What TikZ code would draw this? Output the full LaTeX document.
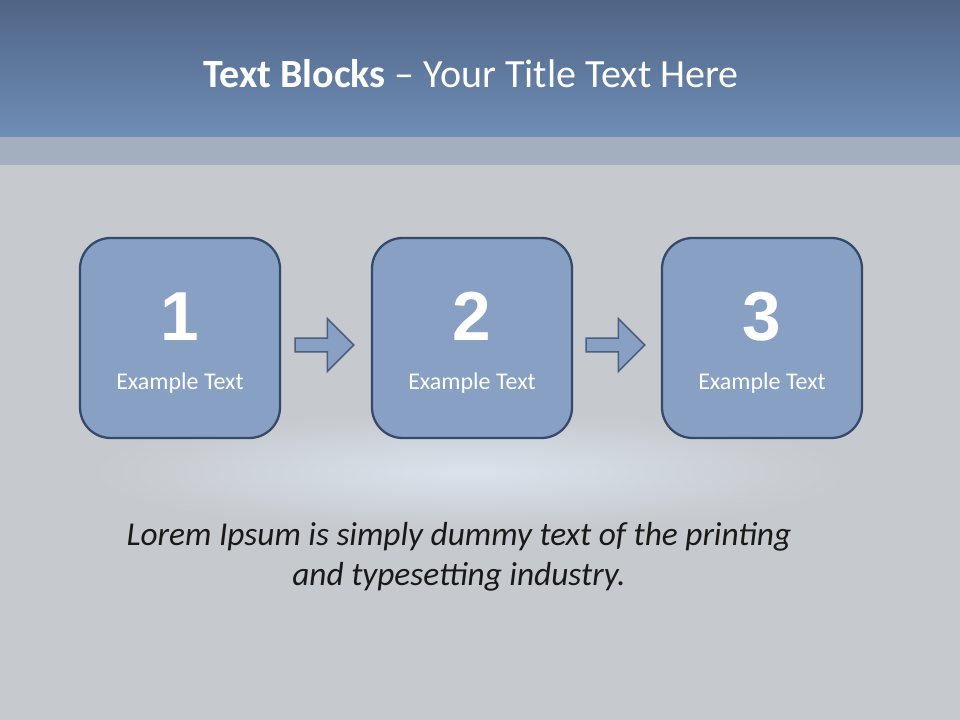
\documentclass[tikz,border=0pt]{standalone}
\usepackage{fontspec}
\setmainfont{Carlito}
\newfontfamily\numfont{Liberation Sans}
\usetikzlibrary{positioning,calc,shapes.arrows}
\definecolor{BarTop}{HTML}{4F6586}
\definecolor{BarBottom}{HTML}{6F8DB6}
\definecolor{BandGrey}{HTML}{A3AFBF}
\definecolor{SlideGrey}{HTML}{C6C9CD}
\definecolor{BlockBlue}{HTML}{87A0C4}
\definecolor{BlockEdge}{HTML}{34496B}
\definecolor{ArrowEdge}{HTML}{4B5F80}
\definecolor{GlowBlue}{HTML}{D9E2EC}

\tikzset{
  block/.style={draw=BlockEdge,line width=1.7pt,fill=BlockBlue,rounded corners=23pt,
    minimum width=150pt,minimum height=150pt,inner sep=0pt},
  numlabel/.style={text=white,font=\numfont\bfseries\fontsize{52}{60}\selectfont,anchor=base,inner sep=0pt},
  boxlabel/.style={text=white,font=\fontsize{18}{21}\selectfont,anchor=base,inner sep=0pt},
  steparrow/.style={single arrow,draw=ArrowEdge,line width=1.2pt,fill=BlockBlue,
    inner sep=4.6pt,minimum height=44pt,single arrow head extend=14.6pt,single arrow head indent=0pt},
}

\begin{document}
\begin{tikzpicture}[x=0.75pt,y=-0.75pt]
		\useasboundingbox (0,0) rectangle (960,720);
		% slide background
		\fill[SlideGrey] (0,0) rectangle (960,720);
		\shade[inner color=GlowBlue,outer color=SlideGrey] (470,472) ellipse (380 and 60);
		\shade[top color=BarTop,bottom color=BarBottom] (0,0) rectangle (960,137);
		\fill[BandGrey] (0,137) rectangle (960,165);
		\node[text=white,font=\fontsize{30}{36}\selectfont,anchor=base] (title) at (471,88) {\textbf{Text Blocks} -- Your Title Text Here};
		% numbered blocks
		\foreach \i/\x in {1/180,2/472,3/762} {
			\node[block] (box\i) at (\x,338) {};
			\node[numlabel] (num\i) at (\x,340) {\i};
			\node[boxlabel] (lab\i) at (\x,389) {Example Text};
		}
		\node[steparrow] (arr1) at ($(box1.east)!0.5!(box2.west)+(-5,7)$) {};
		\node[steparrow] (arr2) at ($(box2.east)!0.5!(box3.west)+(-5,7)$) {};
		\node[text=black!90,font=\itshape\fontsize{25}{30}\selectfont,align=center] (lorem) at (459,557)
			{Lorem Ipsum is simply dummy text of the printing\\and typesetting industry.};
	\end{tikzpicture}
\end{document}
